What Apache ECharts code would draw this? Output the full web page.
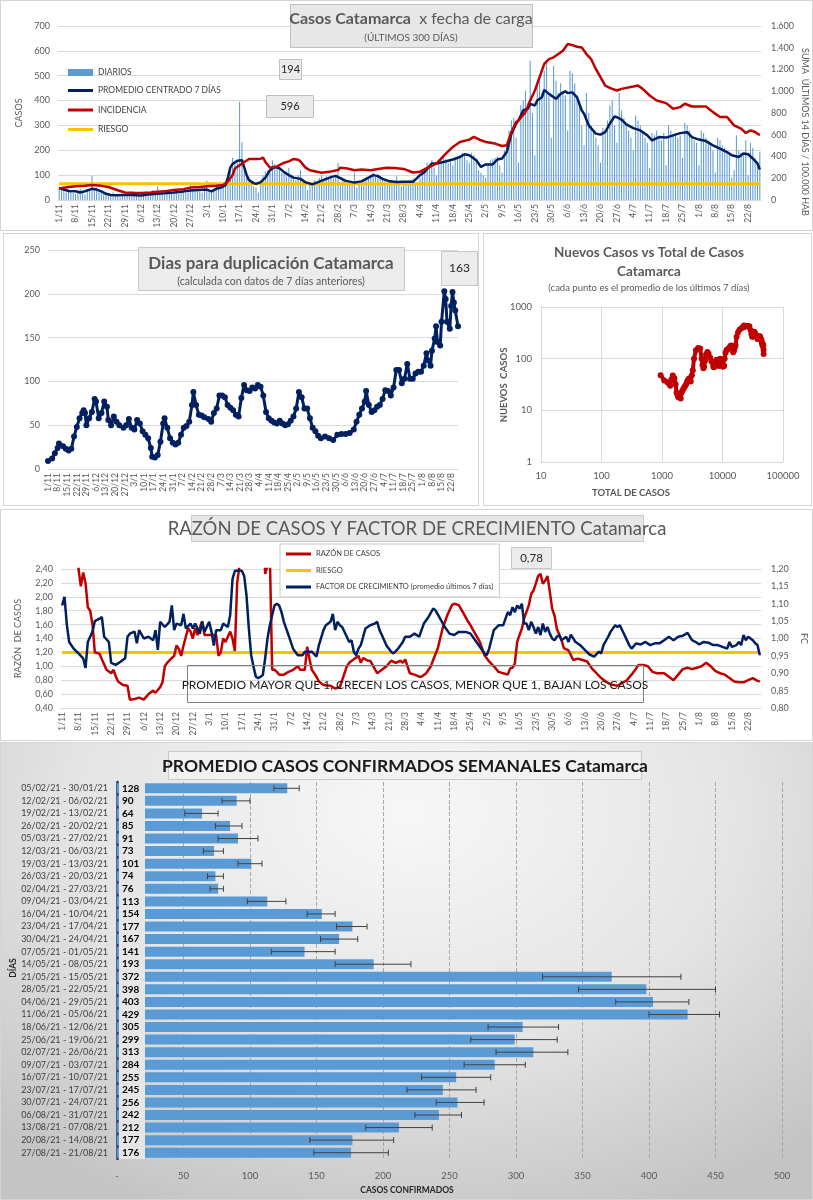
<!DOCTYPE html>
<html><head><meta charset="utf-8">
<script src="https://cdn.jsdelivr.net/npm/echarts/dist/echarts.min.js"></script>
<style>
body{margin:0;background:#fff;width:813px;height:1200px;position:relative;overflow:hidden}
.p{position:absolute;box-sizing:border-box;border:1px solid #d4d4d4;background:#fff}
#c1{left:0;top:0;width:813px;height:231px}
#c2{left:3px;top:233px;width:476px;height:273px}
#c3{left:483px;top:233px;width:329px;height:273px}
#c4{left:0;top:509px;width:813px;height:232px}
#c5{left:0;top:742px;width:813px;height:458px;background:radial-gradient(ellipse 75% 95% at 50% 15%,#f7f7f7 0%,#e4e4e4 55%,#c4c4c4 100%)}
</style></head><body>
<div id="c1" class="p"></div><div id="c2" class="p"></div><div id="c3" class="p"></div><div id="c4" class="p"></div><div id="c5" class="p"></div>
<script>
const FONT='Lato, "Open Sans", sans-serif';
// ---------- data ----------
const dailyCases=[50,40,55,30,42,35,28, 25,38,45,30,22,40,35, 98,40,50,35,30,25,20, 15,22,30,18,25,12,20,
18,25,15,22,30,20,16, 20,28,35,18,24,40,22, 55,25,30,20,28,35,24, 30,40,25,45,35,28,30,
70,38,45,40,35,30,50, 78,35,40,45,55,60,50, 60,70,90,130,170,150,160, 395,232,120,90,70,60,55,
50,30,70,100,115,120,110, 160,145,130,125,110,105,95, 130,90,85,80,100,120,70, 75,40,60,70,80,60,90,
100,80,95,90,100,85,95, 150,60,80,85,70,75,60, 110,50,65,70,80,90,85, 100,110,95,105,90,80,75,
60,70,80,75,95,65,55, 60,70,75,80,85,65,60, 90,120,130,150,140,160,130, 100,150,160,170,165,150,155,
140,170,175,180,190,185,160, 150,190,180,165,120,110,100, 90,150,160,165,170,175,140, 110,200,220,280,320,330,250,
150,380,400,440,390,560,350, 180,460,480,430,520,560,420, 250,540,480,430,470,440,420, 280,520,510,470,420,380,300,
220,430,350,300,280,250,220, 150,290,280,320,380,400,300, 230,430,360,330,300,280,250, 200,340,320,300,270,250,230,
130,270,260,280,250,240,270, 140,300,280,260,270,250,260, 170,310,300,280,260,240,230, 140,280,270,250,240,220,200,
110,250,240,220,210,190,180, 90,120,260,200,190,180,240, 100,230,210,170,150,194];
const avgDates=['1/11','3/11','5/11','8/11','10/11','12/11','15/11','17/11','19/11','21/11','23/11','26/11','29/11','2/12','6/12','9/12','13/12','16/12','20/12','23/12','27/12','30/12','3/1','5/1','7/1','9/1','11/1','12/1','13/1','14/1','16/1','18/1','19/1','20/1','21/1','23/1','24/1','26/1','28/1','30/1','1/2','3/2','5/2','7/2','9/2','12/2','14/2','17/2','19/2','21/2','23/2','25/2','27/2','1/3','3/3','5/3','7/3','10/3','12/3','15/3','17/3','19/3','22/3','25/3','28/3','1/4','4/4','6/4','9/4','11/4','14/4','18/4','21/4','23/4','25/4','28/4','30/4','2/5','5/5','7/5','9/5','11/5','13/5','15/5','16/5','18/5','20/5','21/5','23/5','24/5','26/5','27/5','29/5','30/5','1/6','3/6','5/6','6/6','8/6','10/6','12/6','13/6','15/6','18/6','20/6','22/6','24/6','26/6','27/6','29/6','1/7','4/7','7/7','10/7','12/7','15/7','18/7','21/7','24/7','27/7','29/7','1/8','4/8','7/8','10/8','13/8','15/8','18/8','20/8','22/8','24/8','26/8','27/8'];
const avgValues=[48,42,36,35,30,35,45,42,35,25,20,19,20,20,18,22,25,27,30,33,38,40,42,35,45,50,60,90,130,145,158,160,130,100,80,68,65,72,90,120,133,128,112,100,90,85,72,63,70,78,85,92,97,88,78,74,70,75,85,100,96,85,75,72,73,73,100,113,147,147,153,163,173,184,180,160,133,143,143,163,167,193,267,307,320,360,367,387,380,400,413,443,427,420,407,427,437,430,433,413,360,347,300,267,263,273,307,336,333,323,304,289,280,260,240,253,251,260,269,273,253,243,237,220,207,193,180,173,187,184,167,147,123];
const incDates=['1/11','5/11','8/11','12/11','15/11','19/11','22/11','26/11','29/11','3/12','6/12','10/12','13/12','17/12','20/12','24/12','27/12','31/12','3/1','7/1','10/1','12/1','14/1','15/1','17/1','19/1','21/1','24/1','26/1','27/1','28/1','30/1','2/2','5/2','7/2','9/2','11/2','12/2','14/2','16/2','19/2','21/2','25/2','28/2','1/3','4/3','7/3','10/3','14/3','17/3','21/3','24/3','28/3','1/4','4/4','8/4','11/4','15/4','18/4','21/4','25/4','27/4','30/4','2/5','6/5','9/5','11/5','13/5','15/5','16/5','19/5','21/5','23/5','25/5','27/5','29/5','31/5','2/6','4/6','6/6','8/6','10/6','12/6','14/6','16/6','18/6','20/6','22/6','25/6','27/6','29/6','1/7','4/7','6/7','8/7','11/7','14/7','18/7','21/7','24/7','26/7','29/7','1/8','4/8','7/8','10/8','13/8','16/8','19/8','21/8','23/8','25/8','27/8'];
const incValues=[107,120,126,130,137,130,119,90,69,66,64,68,75,82,91,100,114,120,126,130,137,170,229,290,320,350,377,377,380,389,350,297,309,343,355,377,370,354,300,274,260,251,263,275,297,290,274,280,274,285,297,295,286,253,260,305,335,427,488,534,555,580,549,534,519,497,503,625,717,732,808,915,1007,1129,1251,1296,1312,1342,1373,1434,1424,1409,1403,1342,1296,1205,1129,1052,1022,1007,1022,1031,1043,1052,1022,961,915,891,839,854,885,860,860,860,808,763,763,686,656,616,640,625,596];
const riesgoInc=150;
const dupDates=['1/11','4/11','6/11','8/11','9/11','12/11','14/11','16/11','18/11','20/11','22/11','24/11','26/11','27/11','28/11','29/11','1/12','3/12','5/12','6/12','8/12','10/12','12/12','14/12','15/12','17/12','19/12','21/12','23/12','26/12','28/12','30/12','1/1','3/1','5/1','7/1','9/1','11/1','13/1','15/1','16/1','18/1','20/1','22/1','24/1','25/1','27/1','29/1','31/1','2/2','4/2','6/2','8/2','10/2','12/2','14/2','15/2','17/2','19/2','21/2','23/2','26/2','28/2','2/3','4/3','6/3','8/3','10/3','12/3','14/3','16/3','18/3','20/3','22/3','24/3','26/3','28/3','30/3','1/4','3/4','5/4','7/4','9/4','11/4','13/4','15/4','17/4','19/4','21/4','23/4','25/4','27/4','29/4','1/5','3/5','5/5','7/5','9/5','11/5','13/5','15/5','17/5','19/5','22/5','25/5','28/5','31/5','3/6','6/6','9/6','12/6','14/6','16/6','18/6','20/6','21/6','23/6','25/6','27/6','29/6','1/7','3/7','5/7','7/7','9/7','11/7','13/7','15/7','17/7','19/7','21/7','23/7','25/7','27/7','29/7','31/7','2/8','4/8','5/8','7/8','8/8','10/8','11/8','12/8','14/8','15/8','17/8','18/8','19/8','21/8','22/8','23/8','24/8','25/8','27/8'];
const dupValues=[9,12,18,24,29,26,23,21,23,37,48,58,64,67,64,50,58,65,80,77,58,64,77,71,56,50,60,54,50,47,50,57,47,45,56,52,43,39,35,24,14,13,16,31,52,58,47,35,30,28,30,39,47,49,54,73,88,73,62,61,59,57,54,64,69,84,84,82,73,70,67,62,60,81,96,90,89,93,92,96,94,84,65,58,55,53,52,55,52,50,51,55,60,69,88,82,69,69,58,47,43,38,35,37,35,33,39,40,40,41,45,54,62,69,77,89,73,65,67,71,73,80,90,89,84,93,113,113,98,103,120,103,103,109,111,111,118,132,124,118,135,149,163,145,141,168,203,194,168,160,186,202,190,181,163];
const totalCases=[950,1090,1230,1300,1370,1440,1510,1600,1680,1740,1800,1860,1920,1980,2040,2100,2170,2250,2330,2420,2510,2600,2720,2850,2980,3120,3230,3380,3640,3950,4270,4520,4680,4830,4970,5130,5360,5620,5880,6240,6530,6800,7040,7250,7460,7720,7990,8260,8500,8720,8950,9210,9500,9760,9990,10210,10420,10630,10850,11230,11660,12110,12570,13060,13580,14120,14610,15030,15450,15900,16420,17100,18020,19080,20190,21390,22680,23960,25230,26530,27820,29000,30000,30850,31650,32500,33460,34430,35320,36170,36990,37740,38480,39240,40020,40810,41620,42400,43130,43830,44470,45070,45640,46170,46710,47260,47730,47860];
const newCases=[48,38,35,33,30,40,47,42,32,22,20,18,19,20,17,22,24,26,28,30,32,36,40,42,36,48,60,100,145,160,158,100,75,65,70,90,120,135,125,105,90,85,70,68,80,88,95,82,75,72,80,100,95,82,75,70,72,73,100,130,147,150,158,165,178,180,160,133,143,163,180,267,320,362,385,400,440,415,427,430,425,360,300,267,268,307,333,315,292,283,265,240,253,251,260,269,273,250,241,230,213,200,188,176,187,180,147,123];
const razonDates=['1/11','7/11','8/11','9/11','10/11','11/11','12/11','13/11','14/11','15/11','17/11','18/11','20/11','22/11','23/11','24/11','25/11','27/11','29/11','30/11','2/12','4/12','6/12','8/12','10/12','11/12','13/12','14/12','15/12','16/12','18/12','19/12','20/12','21/12','22/12','23/12','25/12','26/12','27/12','28/12','29/12','31/12','1/1','4/1','6/1','7/1','8/1','9/1','10/1','12/1','13/1','14/1','15/1','16/1','17/1','26/1','27/1','28/1','29/1','30/1','31/1','1/2','2/2','4/2','6/2','8/2','10/2','11/2','13/2','14/2','15/2','16/2','18/2','19/2','21/2','24/2','26/2','28/2','1/3','3/3','4/3','6/3','8/3','9/3','10/3','12/3','13/3','14/3','16/3','18/3','20/3','22/3','24/3','26/3','27/3','28/3','30/3','1/4','3/4','4/4','6/4','8/4','9/4','11/4','13/4','15/4','17/4','18/4','20/4','22/4','24/4','25/4','27/4','29/4','1/5','3/5','5/5','7/5','9/5','11/5','12/5','13/5','14/5','15/5','16/5','17/5','18/5','20/5','21/5','22/5','23/5','24/5','25/5','26/5','27/5','28/5','29/5','30/5','31/5','1/6','3/6','4/6','6/6','8/6','10/6','12/6','14/6','16/6','18/6','20/6','22/6','24/6','27/6','29/6','1/7','3/7','5/7','6/7','8/7','10/7','12/7','14/7','17/7','19/7','21/7','23/7','25/7','27/7','29/7','31/7','2/8','4/8','6/8','8/8','10/8','12/8','14/8','16/8','18/8','20/8','22/8','24/8','26/8','27/8'];
const razonValues=[3.5,3.2,2.4,2.15,2.35,2.2,1.85,1.8,1.6,1.2,1.18,1.1,0.95,0.9,0.95,0.85,0.78,0.73,0.72,0.52,0.53,0.55,0.52,0.6,0.65,0.62,0.7,0.77,1.0,1.05,1.12,1.15,1.3,1.25,1.15,1.3,1.55,1.5,1.4,1.55,1.45,1.65,1.45,1.45,1.45,1.15,1.2,1.4,1.35,1.5,1.4,1.22,2.2,2.45,3.2,3.2,2.33,2.45,2.6,0.95,0.95,0.92,0.88,0.88,0.92,0.95,1.0,0.95,0.95,1.28,1.1,0.95,0.85,0.78,0.73,0.72,0.68,0.7,0.8,1.0,1.05,1.1,1.15,1.05,1.12,1.08,1.08,1.02,0.9,0.95,1.0,1.08,1.05,1.08,1.05,1.1,0.9,0.88,0.85,0.85,0.9,1.0,1.09,1.26,1.54,1.73,1.88,1.9,1.88,1.76,1.64,1.59,1.47,1.35,1.16,1.07,1.0,0.92,0.9,0.88,0.97,0.98,1.04,1.35,1.45,1.54,1.69,1.88,2.04,2.09,2.19,2.3,2.33,2.19,2.23,2.3,2.07,1.83,1.73,1.54,1.38,1.26,1.23,1.09,1.11,1.09,1.07,0.97,0.9,0.83,0.78,0.74,0.72,0.76,0.8,0.88,0.97,1.02,1.02,1.0,0.92,0.9,0.9,0.85,0.8,0.88,0.96,0.98,0.96,0.98,1.0,1.05,1.0,0.93,0.9,0.88,0.83,0.78,0.77,0.77,0.8,0.83,0.79,0.78];
const fcDates=['1/11','2/11','3/11','4/11','6/11','8/11','10/11','11/11','12/11','14/11','15/11','17/11','18/11','19/11','21/11','22/11','24/11','26/11','28/11','29/11','30/11','2/12','3/12','4/12','6/12','8/12','10/12','11/12','12/12','13/12','15/12','17/12','18/12','19/12','20/12','22/12','23/12','24/12','26/12','27/12','28/12','30/12','31/12','1/1','3/1','4/1','5/1','6/1','8/1','9/1','11/1','12/1','13/1','14/1','16/1','17/1','18/1','19/1','20/1','21/1','22/1','23/1','24/1','25/1','26/1','27/1','28/1','29/1','30/1','31/1','1/2','2/2','3/2','4/2','6/2','8/2','10/2','12/2','13/2','14/2','16/2','18/2','19/2','21/2','22/2','24/2','25/2','26/2','27/2','28/2','1/3','3/3','4/3','5/3','6/3','7/3','8/3','9/3','10/3','11/3','13/3','15/3','16/3','17/3','18/3','20/3','22/3','23/3','25/3','27/3','28/3','30/3','1/4','3/4','5/4','7/4','9/4','10/4','12/4','14/4','16/4','18/4','20/4','23/4','25/4','27/4','29/4','1/5','2/5','3/5','5/5','7/5','9/5','10/5','11/5','12/5','13/5','14/5','15/5','16/5','17/5','18/5','19/5','20/5','21/5','22/5','23/5','24/5','25/5','26/5','27/5','28/5','29/5','30/5','31/5','1/6','2/6','3/6','5/6','6/6','7/6','9/6','11/6','13/6','15/6','17/6','19/6','20/6','21/6','23/6','24/6','26/6','27/6','28/6','30/6','2/7','3/7','5/7','7/7','9/7','11/7','13/7','15/7','17/7','19/7','21/7','23/7','25/7','27/7','29/7','31/7','1/8','3/8','5/8','7/8','9/8','11/8','13/8','14/8','15/8','17/8','18/8','19/8','20/8','21/8','22/8','24/8','25/8','26/8','27/8'];
const fcValues=[1.095,1.12,1.04,0.99,0.97,0.957,0.943,0.915,0.99,1.02,1.05,1.057,1.062,1.005,0.99,0.93,0.924,0.933,0.943,1.005,1.014,1.02,0.986,1.024,1.0,1.005,0.995,1.024,0.967,1.048,1.033,1.048,1.095,1.024,1.043,1.038,1.071,1.029,1.043,1.029,1.043,1.014,1.048,1.019,1.048,1.019,0.98,1.024,1.024,1.043,1.033,1.067,1.171,1.195,1.195,1.195,1.18,1.124,1.029,0.952,0.919,0.89,0.886,0.89,0.895,0.943,1.0,1.038,1.067,1.095,1.1,1.095,1.076,1.048,1.01,0.97,0.952,0.952,0.962,0.962,0.962,0.948,0.98,1.024,1.038,1.048,1.071,1.024,1.048,1.038,1.033,1.005,0.99,0.995,0.962,0.952,0.971,0.981,1.005,1.029,1.038,1.043,1.048,1.024,1.01,0.98,0.962,0.957,0.971,0.99,1.005,1.005,1.014,1.005,1.043,1.062,1.086,1.081,1.057,1.033,1.014,1.01,1.019,1.019,1.014,0.995,0.976,0.957,0.952,0.971,1.024,1.038,1.038,1.057,1.076,1.067,1.09,1.076,1.095,1.086,1.1,1.043,1.043,1.024,1.048,1.033,1.014,1.033,1.01,1.043,1.019,1.033,1.014,1.0,0.995,1.005,1.01,0.995,1.005,0.99,1.011,0.99,0.981,0.967,0.954,0.948,0.962,0.957,0.981,1.005,1.019,1.038,1.033,1.038,1.01,0.981,0.971,0.986,0.983,0.99,0.981,0.986,0.986,0.995,1.005,0.995,1.005,1.008,1.016,0.995,0.988,0.983,0.99,0.988,0.981,0.981,0.976,0.971,0.99,0.976,0.981,0.99,0.981,1.01,0.995,1.005,0.995,0.986,0.981,0.952];
const riesgoRazon=1.2;
const weekLabels=['05/02/21 - 30/01/21','12/02/21 - 06/02/21','19/02/21 - 13/02/21','26/02/21 - 20/02/21','05/03/21 - 27/02/21','12/03/21 - 06/03/21','19/03/21 - 13/03/21','26/03/21 - 20/03/21','02/04/21 - 27/03/21','09/04/21 - 03/04/21','16/04/21 - 10/04/21','23/04/21 - 17/04/21','30/04/21 - 24/04/21','07/05/21 - 01/05/21','14/05/21 - 08/05/21','21/05/21 - 15/05/21','28/05/21 - 22/05/21','04/06/21 - 29/05/21','11/06/21 - 05/06/21','18/06/21 - 12/06/21','25/06/21 - 19/06/21','02/07/21 - 26/06/21','09/07/21 - 03/07/21','16/07/21 - 10/07/21','23/07/21 - 17/07/21','30/07/21 - 24/07/21','06/08/21 - 31/07/21','13/08/21 - 07/08/21','20/08/21 - 14/08/21','27/08/21 - 21/08/21'];
const weekAvg=[128,90,64,85,91,73,101,74,76,113,154,177,167,141,193,372,398,403,429,305,299,313,284,255,245,256,242,212,177,176];
const errLow=[118,79,51,74,76,65,91,68,70,98,143,165,153,116,164,320,347,375,400,279,266,285,261,229,218,240,224,187,145,148];
const errHigh=[137,100,76,94,106,80,109,80,80,127,164,188,181,164,221,424,450,430,453,332,331,339,307,281,270,276,259,237,208,204];

// date categories 1/11/2020 .. 27/8/2021
const dates=[];const t0=Date.UTC(2020,10,1);
for(let i=0;i<300;i++){const d=new Date(t0+i*86400000);dates.push(d.getUTCDate()+'/'+(d.getUTCMonth()+1));}
const pairs=(ds,vs)=>ds.map((d,i)=>[d,vs[i]]);
const GREY='#595959', GRID='#d9d9d9', NAVY='#002060', RED='#C00000', YEL='#FFC000', BLUE='#5B9BD5';
const thou=v=>v>=1000?Math.floor(v/1000)+'.'+String(v%1000).padStart(3,'0'):String(v);
const comma=v=>v.toFixed(2).replace('.',',');
function box(x,y,w,h,fill,stroke){return {type:'rect',shape:{x:x,y:y,width:w,height:h},style:{fill:fill,stroke:stroke,lineWidth:1},z:50};}
function txt(x,y,text,size,opts){return Object.assign({type:'text',x:x,y:y,z:51,style:Object.assign({text:text,fontSize:size,fontFamily:FONT,fill:GREY,align:'center',verticalAlign:'middle'},opts||{})});}
const dateAxis=(extra)=>Object.assign({type:'category',data:dates,boundaryGap:true,
  axisLabel:{rotate:90,interval:6,fontSize:8.5,color:GREY,fontFamily:FONT,margin:4},
  axisTick:{show:false},axisLine:{lineStyle:{color:GRID}}},extra||{});

// ---------- chart 1 ----------
const c1=echarts.init(document.getElementById('c1'));
c1.setOption({animation:false,textStyle:{fontFamily:FONT},
 grid:{left:57,right:51,top:25,bottom:30,outerBoundsMode:'none'},
 legend:[{orient:'vertical',left:62,top:62,itemWidth:25,itemHeight:7,textStyle:{fontSize:8.5,color:'#404040'},
   data:[{name:'DIARIOS',icon:'rect'}]},
  {orient:'vertical',left:62,top:80,itemWidth:25,itemHeight:3,itemGap:10.5,textStyle:{fontSize:8.5,color:'#404040'},
   data:[{name:'PROMEDIO CENTRADO 7 DÍAS',icon:'rect'},{name:'INCIDENCIA',icon:'rect'},{name:'RIESGO',icon:'rect'}]}],
 xAxis:dateAxis(),
 yAxis:[{type:'value',min:0,max:700,interval:100,name:'CASOS',nameLocation:'middle',nameGap:30,nameTextStyle:{fontSize:9,color:GREY},
   axisLabel:{fontSize:9,color:GREY},axisLine:{show:false},axisTick:{show:false},splitLine:{lineStyle:{color:GRID}}},
  {type:'value',min:0,max:1600,interval:200,
   axisLabel:{fontSize:9,color:GREY,formatter:thou,margin:10},axisLine:{show:false},axisTick:{show:false},splitLine:{show:false}}],
 series:[
  {name:'DIARIOS',type:'bar',data:dailyCases,barWidth:'45%',itemStyle:{color:BLUE},z:1},
  {name:'RIESGO',type:'line',yAxisIndex:1,data:[[dates[0],riesgoInc],[dates[299],riesgoInc]],symbol:'none',lineStyle:{color:YEL,width:3},itemStyle:{color:YEL},z:3},
  {name:'PROMEDIO CENTRADO 7 DÍAS',type:'line',data:pairs(avgDates,avgValues),symbol:'none',lineStyle:{color:NAVY,width:2.5},itemStyle:{color:NAVY},z:4},
  {name:'INCIDENCIA',type:'line',yAxisIndex:1,data:pairs(incDates,incValues),symbol:'none',lineStyle:{color:RED,width:2.5},itemStyle:{color:RED},z:5}
 ],
 graphic:[box(289.5,3.5,242,43,'#e7e7e7','#bfbfbf'),
  txt(410,18,'{b|Casos Catamarca}  x fecha de carga',16,{rich:{b:{fontSize:16,fontWeight:'bold',fill:GREY,fontFamily:FONT}}}),
  txt(410,37,'(ÚLTIMOS 300 DÍAS)',10),
  box(278.5,58.5,22,20,'#ebebeb','#bfbfbf'),txt(289.5,68.5,'194',11,{fill:'#262626'}),
  box(265.5,94.5,47,22,'#ebebeb','#bfbfbf'),txt(289,105.5,'596',11,{fill:'#262626'}),
  Object.assign(txt(804,131,'SUMA  ÚLTIMOS 14 DÍAS / 100.000 HAB',9),{rotation:-Math.PI/2})]
});

// ---------- chart 2 ----------
const c2=echarts.init(document.getElementById('c2'));
c2.setOption({animation:false,textStyle:{fontFamily:FONT},
 grid:{left:44,right:20,top:16,bottom:36,outerBoundsMode:'none'},
 xAxis:dateAxis({boundaryGap:false}),
 yAxis:{type:'value',min:0,max:250,interval:50,axisLabel:{fontSize:9,color:GREY},axisLine:{show:false},axisTick:{show:false},splitLine:{lineStyle:{color:GRID}}},
 series:[{type:'line',data:pairs(dupDates,dupValues),symbol:'circle',symbolSize:6,showAllSymbol:true,lineStyle:{color:NAVY,width:3},itemStyle:{color:NAVY}}],
 graphic:[box(134.5,13.5,266,43,'#ececec','#c8c8c8'),
  txt(267,30,'Dias para duplicación Catamarca',17,{fontWeight:'bold'}),
  txt(267,48,'(calculada con datos de 7 días anteriores)',10.5),
  box(437.5,17.5,36,34,'#ececec','#c8c8c8'),txt(455.5,34.5,'163',12,{fill:'#262626'})]
});

// ---------- chart 3 ----------
const c3=echarts.init(document.getElementById('c3'));
const logAxis=(min,max,extra)=>Object.assign({type:'log',logBase:10,min:min,max:max,
  axisLabel:{fontSize:9.5,color:GREY,formatter:v=>String(v)},axisLine:{lineStyle:{color:GRID}},axisTick:{show:false},
  splitLine:{show:true,lineStyle:{color:GRID}}},extra||{});
c3.setOption({animation:false,textStyle:{fontFamily:FONT},
 grid:{left:57,right:28,top:73,bottom:43,outerBoundsMode:'none'},
 xAxis:logAxis(10,100000,{axisLabel:{fontSize:9.5,color:GREY,formatter:v=>String(v),margin:9}}),
 yAxis:logAxis(1,1000,{axisLabel:{fontSize:9.5,color:GREY,formatter:v=>String(v),margin:9}}),
 series:[{type:'line',data:totalCases.map((x,i)=>[x,newCases[i]]),symbol:'circle',symbolSize:6,showAllSymbol:true,lineStyle:{color:RED,width:4},itemStyle:{color:RED}}],
 graphic:[txt(165,19,'Nuevos Casos vs Total de Casos',13.5,{fontWeight:'bold'}),
  txt(165,38,'Catamarca',13.5,{fontWeight:'bold'}),
  txt(165,54,'(cada punto es el promedio de los últimos 7 días)',9.5),
  txt(147,259,'TOTAL DE CASOS',9.5,{fontWeight:'bold'}),
  Object.assign(txt(20,151,'NUEVOS  CASOS',9.5,{fontWeight:'bold'}),{rotation:Math.PI/2})]
});

// ---------- chart 4 ----------
const c4=echarts.init(document.getElementById('c4'));
c4.setOption({animation:false,textStyle:{fontFamily:FONT},
 grid:{left:60,right:51,top:59,bottom:32,outerBoundsMode:'none'},
 legend:{orient:'vertical',left:279,top:34,itemWidth:25,itemHeight:3,itemGap:8.5,padding:[6,6,6,6],
   backgroundColor:'#fff',borderColor:'#c8c8c8',borderWidth:1,textStyle:{fontSize:7.5,color:'#404040'},
   data:[{name:'RAZÓN DE CASOS',icon:'rect'},{name:'RIESGO',icon:'rect'},{name:'FACTOR DE CRECIMIENTO (promedio últimos 7 días)',icon:'rect'}]},
 xAxis:dateAxis(),
 yAxis:[{type:'value',min:0.4,max:2.4,interval:0.2,name:'RAZÓN  DE CASOS',nameLocation:'middle',nameGap:38,nameTextStyle:{fontSize:9,color:GREY},
   axisLabel:{fontSize:9,color:GREY,formatter:comma},axisLine:{show:false},axisTick:{show:false},splitLine:{lineStyle:{color:GRID}}},
  {type:'value',min:0.8,max:1.2,interval:0.05,name:'FC',nameLocation:'middle',nameRotate:-90,nameGap:35,nameTextStyle:{fontSize:9,color:GREY},
   axisLabel:{fontSize:9,color:GREY,formatter:comma,margin:10},axisLine:{show:false},axisTick:{show:false},splitLine:{show:false}}],
 series:[
  {name:'RIESGO',type:'line',data:[[dates[0],riesgoRazon],[dates[299],riesgoRazon]],symbol:'none',lineStyle:{color:YEL,width:3},itemStyle:{color:YEL},z:2},
  {name:'RAZÓN DE CASOS',type:'line',data:pairs(razonDates,razonValues),symbol:'none',clip:true,lineStyle:{color:RED,width:2.5},itemStyle:{color:RED},z:3},
  {name:'FACTOR DE CRECIMIENTO (promedio últimos 7 días)',type:'line',yAxisIndex:1,data:pairs(fcDates,fcValues),symbol:'none',lineStyle:{color:NAVY,width:2.5},itemStyle:{color:NAVY},z:4}
 ],
 graphic:[box(190.5,5.5,452,26,'#e7e7e7','#c8c8c8'),
  txt(416,19,'RAZÓN DE CASOS Y FACTOR DE CRECIMIENTO Catamarca',18.5),
  box(510.5,37.5,40,21,'#ececec','#c8c8c8'),txt(530.5,48,'0,78',11.5,{fill:'#262626'}),
  box(186.5,155.5,456,37,'rgba(0,0,0,0)','#7f7f7f'),
  txt(414,175,'PROMEDIO MAYOR QUE 1, CRECEN LOS CASOS, MENOR QUE 1, BAJAN LOS CASOS',12,{fill:'#1a1a1a'})]
});

// ---------- chart 5 ----------
const c5=echarts.init(document.getElementById('c5'));
c5.setOption({animation:false,textStyle:{fontFamily:FONT},
 grid:{left:116,right:30,top:39,bottom:40,outerBoundsMode:'none'},
 xAxis:{type:'value',min:0,max:500,interval:50,axisLabel:{fontSize:9.5,color:GREY,margin:12,formatter:v=>v===0?'-':String(v)},
   axisLine:{show:false},axisTick:{show:false},splitLine:{lineStyle:{color:'#a6a6a6',type:'dashed'}}},
 yAxis:{type:'category',data:weekLabels,inverse:true,axisLabel:{interval:0,fontSize:9,color:'#404040',margin:9},
   axisTick:{show:false},axisLine:{lineStyle:{color:'#1f3864',width:2.5}}},
 series:[
  {type:'bar',data:weekAvg,barWidth:10,itemStyle:{color:BLUE},
   label:{show:true,position:'insideLeft',distance:2,fontSize:10,fontWeight:'bold',color:'#000',fontFamily:FONT,
     backgroundColor:'#e6e6e6',width:21,height:12.6,lineHeight:12.6,padding:[0,2,0,3],align:'left'}},
  {type:'custom',data:weekAvg.map((v,i)=>[i,errLow[i],errHigh[i]]),encode:{x:[1,2],y:0},z:5,
   renderItem:(params,api)=>{const c=api.value(0);const a=api.coord([api.value(1),c]);const b=api.coord([api.value(2),c]);
     const st={stroke:'#404040',lineWidth:1};
     return {type:'group',children:[
      {type:'line',shape:{x1:a[0],y1:a[1],x2:b[0],y2:b[1]},style:st},
      {type:'line',shape:{x1:a[0],y1:a[1]-3,x2:a[0],y2:a[1]+3},style:st},
      {type:'line',shape:{x1:b[0],y1:b[1]-3,x2:b[0],y2:b[1]+3},style:st}]};}}
 ],
 graphic:[box(167.5,8.5,473,28,'#f2f2f2','#c8c8c8'),
  txt(404,23,'PROMEDIO CASOS CONFIRMADOS SEMANALES Catamarca',17.5,{fontWeight:'bold',fill:'#1a1a1a'}),
  txt(406,447,'CASOS CONFIRMADOS',8.5,{fontWeight:'bold',fill:'#262626'}),
  Object.assign(txt(12,225,'DÍAS',8.5,{fontWeight:'bold',fill:'#262626'}),{rotation:Math.PI/2})]
});
</script></body></html>
